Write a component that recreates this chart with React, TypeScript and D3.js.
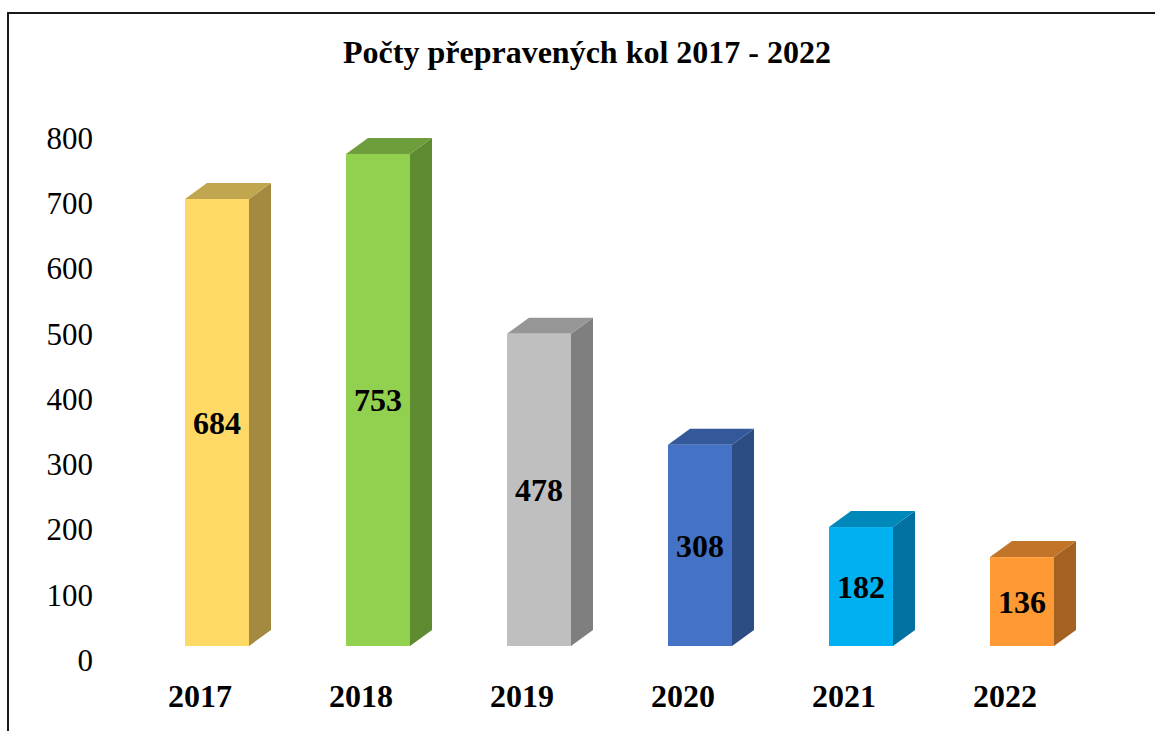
import React from "react";
import * as d3 from "d3";

const years = ["2017", "2018", "2019", "2020", "2021", "2022"];
const values = [684, 753, 478, 308, 182, 136];
const frontColors = ["#FFD966", "#92D050", "#BFBFBF", "#4472C4", "#00B0F0", "#FF9933"];
const topColors = ["#C0A64E", "#6E9E3C", "#969696", "#34599A", "#0088BB", "#C27428"];
const sideColors = ["#A38A40", "#5E8A32", "#7F7F7F", "#2D4C84", "#0071A0", "#A36221"];
const yTicks = [0, 100, 200, 300, 400, 500, 600, 700, 800];
const title = "Počty přepravených kol 2017 - 2022";

const W = 1155;
const H = 731;
const FONT = "'Liberation Serif', 'Times New Roman', serif";

export default function App() {
  const x = d3
    .scaleBand<string>()
    .domain(years)
    .range([88, 1151])
    .paddingInner(0.6025)
    .paddingOuter(0.6025);
  const y = d3.scaleLinear().domain([0, 800]).range([646, 646 - 800 * 0.6535]);
  const yLab = d3.scaleLinear().domain([0, 800]).range([660, 138]);
  const dx = 22;
  const dy = 16;
  const w = x.bandwidth();
  const y0 = y(0);

  return (
    <svg
      width={W}
      height={H}
      style={{ position: "absolute", left: 0, top: 0, background: "#fff" }}
      fontFamily={FONT}
    >
      <rect x={0} y={0} width={W} height={H} fill="#fff" />
      <rect x={8} y={13} width={1160} height={740} fill="none" stroke="#000" strokeWidth={1.8} />
      <text x={587} y={63} textAnchor="middle" fontWeight="bold" fontSize={32}>
        {title}
      </text>
      {yTicks.map((t) => (
        <text key={t} x={93} y={yLab(t)} dy="0.35em" textAnchor="end" fontSize={31}>
          {t}
        </text>
      ))}
      {years.map((yr, i) => {
        const x0 = x(yr)!;
        const yt = y(values[i]);
        const top = [
          [x0, yt],
          [x0 + dx, yt - dy],
          [x0 + w + dx, yt - dy],
          [x0 + w, yt],
        ];
        const side = [
          [x0 + w, yt],
          [x0 + w + dx, yt - dy],
          [x0 + w + dx, y0 - dy],
          [x0 + w, y0],
        ];
        const pts = (p: number[][]) => p.map((q) => q.join(",")).join(" ");
        return (
          <g key={yr}>
            <polygon points={pts(side)} fill={sideColors[i]} />
            <polygon points={pts(top)} fill={topColors[i]} />
            <rect x={x0} y={yt} width={w} height={y0 - yt} fill={frontColors[i]} />
            <text
              x={x0 + w / 2}
              y={(yt + y0) / 2}
              dy="0.35em"
              textAnchor="middle"
              fontWeight="bold"
              fontSize={32}
            >
              {values[i]}
            </text>
            <text x={x0 + w / 2 - 17} y={707} textAnchor="middle" fontWeight="bold" fontSize={32}>
              {yr}
            </text>
          </g>
        );
      })}
    </svg>
  );
}
